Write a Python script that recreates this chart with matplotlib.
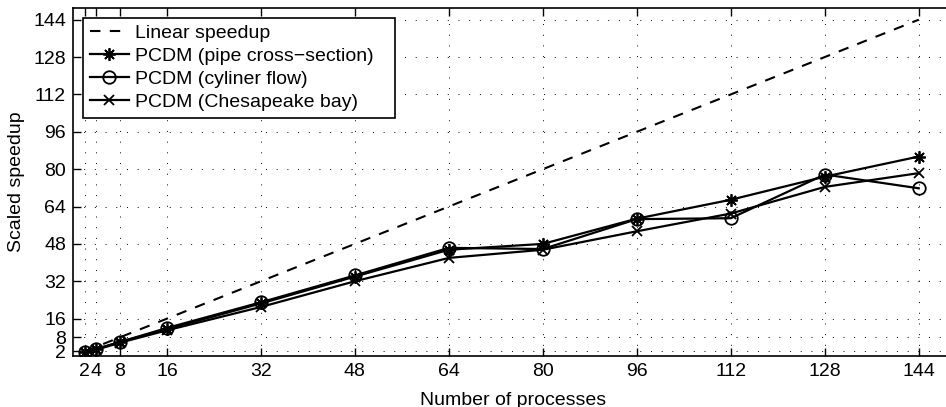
import numpy as np
import matplotlib
matplotlib.use('Agg')
import matplotlib.pyplot as plt

plt.rcParams['font.family'] = ['Liberation Sans', 'DejaVu Sans']

procs = [2, 4, 8, 16, 32, 48, 64, 80, 96, 112, 128, 144]
linear = procs
pipe = [1.5, 3.0, 6.0, 11.5, 22.5, 34.0, 45.5, 48.0, 58.8, 66.9, 76.8, 85.4]
cylinder = [1.5, 3.0, 6.0, 12.0, 23.0, 34.5, 46.3, 45.8, 58.6, 59.0, 77.7, 71.8]
chesapeake = [1.2, 2.7, 5.7, 11.0, 21.0, 32.0, 42.0, 45.5, 53.4, 61.0, 72.4, 78.3]

xticks = [2, 4, 8, 16, 32, 48, 64, 80, 96, 112, 128, 144]
yticks = [2, 8, 16, 32, 48, 64, 80, 96, 112, 128, 144]

fig = plt.figure(figsize=(9.46, 4.07), dpi=100)
ax = fig.add_axes([73/946, 51/407, 881/946, 348/407])

ax.plot(procs, linear, 'k', lw=1.5, dashes=(5, 4.5), label='Linear speedup')
ax.plot(procs, pipe, 'k-', lw=1.6, marker=(8, 2, 0), ms=9, mew=1.3,
        label='PCDM (pipe cross\u2212section)')
ax.plot(procs, cylinder, 'k-', lw=1.6, marker='o', ms=9, mfc='none', mew=1.3,
        label='PCDM (cyliner flow)')
ax.plot(procs, chesapeake, 'k-', lw=1.6, marker='x', ms=6.5, mew=1.3,
        label='PCDM (Chesapeake bay)')

ax.set_xlim(0, 150)
ax.set_ylim(0, 149)
ax.set_xticks(xticks)
ax.set_yticks(yticks)
ax.tick_params(direction='in', top=True, right=True, length=6, width=1,
               labelsize=14, pad=5)
ax.grid(True, color='black', linestyle=(0, (1, 10)), linewidth=0.7)
for s in ax.spines.values():
    s.set_linewidth(1.2)

ax.set_xlabel('Number of processes', fontsize=14, labelpad=9)
ax.set_ylabel('Scaled speedup', fontsize=14, labelpad=6)

# legend box sized like the original (wider than its text)
leg = ax.legend(loc='upper left', bbox_to_anchor=(10/881, 1 - 9.7/348, 312/881, 0),
                mode='expand', fontsize=14, fancybox=False, framealpha=1,
                edgecolor='black', borderaxespad=0, handlelength=2.0,
                handletextpad=0.3, labelspacing=0.27, borderpad=0.35)
leg.get_frame().set_linewidth(1.2)

fig.savefig('out.png', dpi=100)
